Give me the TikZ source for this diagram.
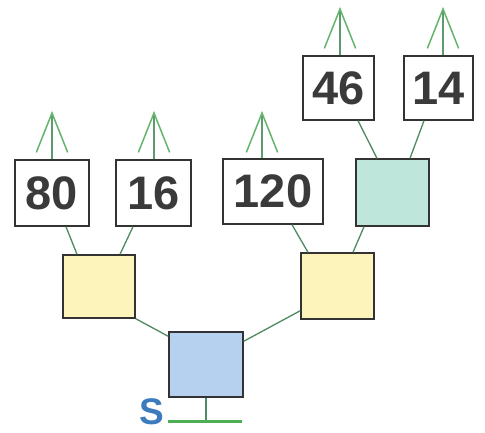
\documentclass[tikz,border=0pt]{standalone}
\usepackage{fontspec}
\setmainfont{Liberation Sans}
\definecolor{boxline}{HTML}{333333}
\definecolor{numcol}{HTML}{3A3A3A}
\definecolor{yellowfill}{HTML}{FCF4BA}
\definecolor{tealfill}{HTML}{BFE6DA}
\definecolor{bluefill}{HTML}{B6D0F0}
\definecolor{linkcol}{HTML}{4E8A62}
\definecolor{stemcol}{HTML}{5E9A70}
\definecolor{arrowcol}{HTML}{64B46C}
\definecolor{scol}{HTML}{3C7CBE}
\definecolor{barcol}{HTML}{4CAF55}
\tikzset{
  box/.style={draw=boxline, line width=1.4pt, inner sep=0pt, font=\fontsize{47}{47}\selectfont\bfseries, text=numcol},
  link/.style={draw=linkcol, line width=1.3pt},
  stemline/.style={draw=stemcol, line width=1.3pt},
  barbline/.style={draw=arrowcol, line width=1.5pt, line cap=round},
}
\begin{document}
\begin{tikzpicture}[x=1pt,y=-1pt]
\fill[white] (0,0) rectangle (485,432);
\useasboundingbox (0,0) rectangle (485,432);
% boxes
\node[box, fill=white, minimum width=74pt, minimum height=66pt] (b80) at (52,193) {80};
\node[box, fill=white, minimum width=75pt, minimum height=66pt] (b16) at (153.5,193) {16};
\node[box, fill=white, minimum width=100pt, minimum height=65pt] (b120) at (273,191.5) {120};
\node[box, fill=tealfill, minimum width=73pt, minimum height=67pt] (tl) at (392.5,192.5) {};
\node[box, fill=white, minimum width=71pt, minimum height=64pt] (b46) at (338.5,88) {46};
\node[box, fill=white, minimum width=69pt, minimum height=64pt] (b14) at (438.5,88) {14};
\node[box, fill=yellowfill, minimum width=72pt, minimum height=63pt] (yL) at (99,286.5) {};
\node[box, fill=yellowfill, minimum width=73pt, minimum height=66pt] (yR) at (337.5,286) {};
\node[box, fill=bluefill, minimum width=74pt, minimum height=65pt] (bl) at (206,364.5) {};
% output arrows
\coordinate (t80) at (52,113);
\coordinate (t16) at (154,113);
\coordinate (t120) at (262,113);
\coordinate (t46) at (340,9);
\coordinate (t14) at (443,9);
\foreach \b/\t in {b80/t80, b16/t16, b120/t120, b46/t46, b14/t14} {
  \draw[stemline] (\t |- \b.north) -- (\t);
  \draw[barbline] ([shift={(-15.5,39)}]\t) -- (\t) -- ([shift={(15.5,39)}]\t);
}
% links
\draw[link] ([xshift=14pt]b80.south) -- ([xshift=-22pt]yL.north);
\draw[link] ([xshift=-20.5pt]b16.south) -- ([xshift=21pt]yL.north);
\draw[link] ([xshift=19pt]b120.south) -- ([xshift=-29.5pt]yR.north);
\draw[link] ([xshift=-28.5pt]tl.south) -- ([xshift=15.5pt]yR.north);
\draw[link] ([xshift=19.5pt]b46.south) -- ([xshift=-15.5pt]tl.north);
\draw[link] ([xshift=-14.5pt]b14.south) -- ([xshift=17.5pt]tl.north);
\draw[link] (yL.south east) -- ([yshift=-5pt]bl.north west);
\draw[link] ([yshift=-10pt]bl.north east) -- ([yshift=9pt]yR.south west);
% source
\coordinate (sl) at (168,421);
\coordinate (sr) at (242,421);
\draw[link] (bl.south) -- (bl.south |- sl);
\draw[draw=barcol, line width=3pt] (sl) -- (sr);
\node[text=scol, font=\fontsize{37}{37}\selectfont\bfseries, inner sep=0pt, anchor=east] (S) at (164,412) {S};
\end{tikzpicture}
\end{document}
